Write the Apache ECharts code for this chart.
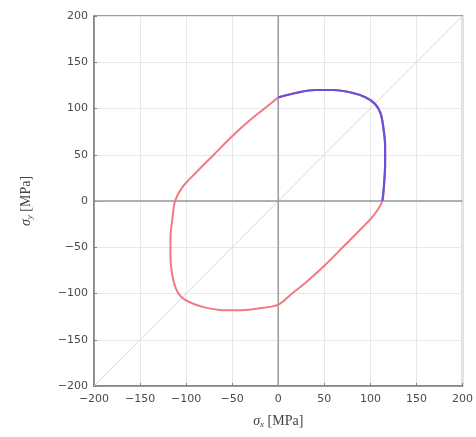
<!DOCTYPE html>
<html><head><meta charset="utf-8">
<script src="https://cdn.jsdelivr.net/npm/echarts@6/dist/echarts.min.js"></script>
<style>html,body{margin:0;padding:0;background:#fff}#c{width:476px;height:437px}</style>
</head><body><div id="c"></div>
<script>
// red loop (sigma_x, sigma_y) in MPa
const redX = [0,20,40,60,80,95,105,111,114,116,116,115,113,104,90,70,50,30,15,0,-20,-40,-60,-80,-95,-105,-111,-115,-117,-117,-115,-112,-104,-90,-70,-50,-30,-15,0];
const redY = [112,117,120,120,117,112,105,95,80,60,40,20,0,-15,-30,-50,-70,-88,-100,-112,-116,-118,-118,-115,-110,-104,-95,-80,-60,-40,-20,0,15,30,50,70,88,100,112];
// blue segment (top-right)
const blueX = [0,20,40,60,80,95,105,111,114,116,116,115,113];
const blueY = [112,117,120,120,117,112,105,95,80,60,40,20,0];
// diagonal reference
const diagX = [-200,200];
const diagY = [-200,200];
const ticks = [-200,-150,-100,-50,0,50,100,150,200];

const zip = (a,b)=>a.map((v,i)=>[v,b[i]]);
const chart = echarts.init(document.getElementById('c'));
const axisCommon = {
  type:'value', min:-200, max:200, interval:50,
  axisLine:{show:true,onZero:false,lineStyle:{color:'#808080',width:1.5}},
  axisTick:{show:true,inside:true,length:3,lineStyle:{color:'#808080'}},
  splitLine:{show:true,lineStyle:{color:'#e8e8e8',width:1}},
  axisLabel:{color:'#4a4a4a',fontFamily:'DejaVu Sans',fontSize:11,formatter:v=>String(v).replace('-','\u2212')},
  nameLocation:'middle',
  nameTextStyle:{fontFamily:'Liberation Serif',fontSize:14,color:'#444',
    rich:{i:{fontFamily:'Liberation Serif',fontStyle:'italic',fontSize:14,color:'#444'},
          s:{fontFamily:'Liberation Serif',fontStyle:'italic',fontSize:9,color:'#444',verticalAlign:'bottom',padding:[6,0,0,0]},
          t:{fontFamily:'Liberation Serif',fontSize:14,color:'#444'}}}
};
chart.setOption({
  animation:false,
  grid:{left:94,top:16,width:371,height:370,show:true,borderColor:'#808080',borderWidth:1.5,backgroundColor:'transparent'},
  xAxis:Object.assign({},axisCommon,{name:'{i|σ}{s|x}{t| [MPa]}',nameGap:28,axisLabel:Object.assign({},axisCommon.axisLabel,{margin:8})}),
  yAxis:Object.assign({},axisCommon,{name:'{i|σ}{s|y}{t| [MPa]}',nameGap:60,axisLabel:Object.assign({},axisCommon.axisLabel,{margin:6})}),
  series:[
    {type:'line',data:zip(diagX,diagY),symbol:'none',lineStyle:{color:'#d8d8d8',width:1},silent:true},
    {type:'line',data:[[0,-200],[0,200]],symbol:'none',lineStyle:{color:'#999',width:1.5},silent:true},
    {type:'line',data:[[-200,0],[200,0]],symbol:'none',lineStyle:{color:'#999',width:1.5},silent:true},
    {type:'line',data:zip(redX,redY),symbol:'none',smooth:0.3,lineStyle:{color:'#f07a82',width:2}},
    {type:'line',data:zip(blueX,blueY),symbol:'none',smooth:0.3,lineStyle:{color:'#6a4fd8',width:2.2}}
  ]
});
</script></body></html>
